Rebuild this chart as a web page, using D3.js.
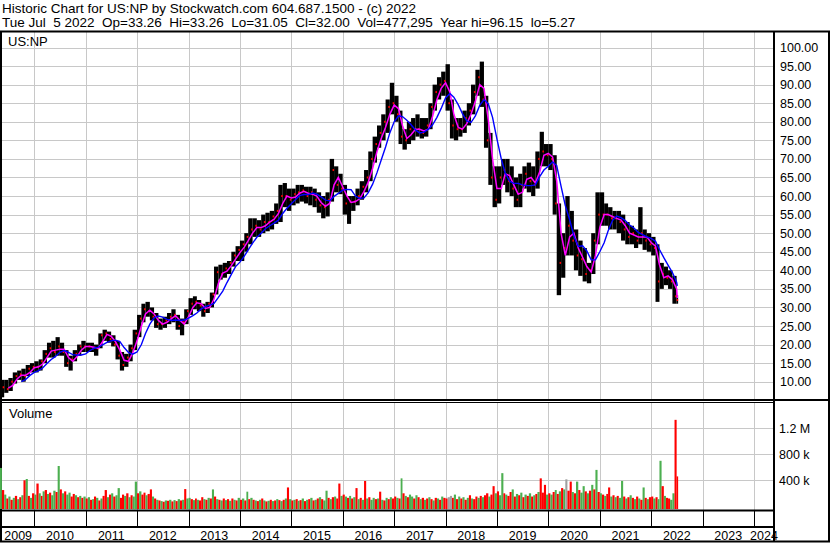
<!DOCTYPE html>
<html>
<head>
<meta charset="utf-8">
<script src="https://cdn.jsdelivr.net/npm/d3@7"></script>
<style>
  body { margin: 0; background: #fff; }
  svg text { font-family: Arial, "Liberation Sans", sans-serif; white-space: pre; }
</style>
</head>
<body>
<svg id="chart" width="830" height="543"></svg>
<script>
// Monthly price data, May 2009 .. Jul 2022.
const firstMonth = new Date(2009, 4, 1);
const lastDay = new Date(2022, 6, 6);

const monthHigh = [
  10.5, 10.5, 11, 12.5, 13, 13.5, 14.5, 15,                     // 2009 May-Dec
  15.5, 16, 18.5, 20.5, 21, 22, 20.5, 18.5, 17, 18.5, 20, 21,   // 2010
  20.5, 20.5, 20, 23, 24, 23.5, 22.5, 21, 18, 17.5, 20, 24,     // 2011
  28, 31, 31.5, 30, 28.5, 27, 27.5, 28.5, 29.5, 28, 27, 29.5,   // 2012
  32.5, 33, 32, 31, 31.5, 34, 41, 41.5, 42, 42.5, 45, 46.5,     // 2013
  48, 50, 54, 54, 53.5, 55, 55.5, 56, 58, 63, 63.5, 62,         // 2014
  62, 63, 63, 62.5, 62.5, 62, 61, 60, 61, 70, 68, 66,           // 2015
  63, 60, 60, 62, 64, 67, 72, 76, 79, 82, 86, 90.5,             // 2016
  87, 83, 78, 80, 81, 82, 81, 81, 85, 90, 92, 93.5,             // 2017
  95.5, 86, 81, 81, 83, 85, 90, 94, 96.2, 87, 77, 68,           // 2018
  68, 70, 70, 68, 65, 66, 68, 69, 68, 72, 77.3, 74,             // 2019
  74, 71, 58, 50, 60, 56, 51, 48, 46, 42, 50, 61,               // 2020
  61, 58, 57, 56, 56, 55, 53, 52, 51, 57, 51, 50,               // 2021
  49, 47, 42, 41, 40, 38.5, 33.3                                // 2022 Jan-Jul
];
const monthLow = [
  5.8, 7, 7.5, 9.5, 10.5, 10, 11.5, 12.5,
  12.5, 13, 15, 16.5, 16.5, 17, 17, 14, 13, 15.5, 17, 18,
  18, 18, 17, 19, 21, 20.5, 19.5, 16, 13, 14, 15.5, 18.5,
  22, 26, 27.5, 26.5, 24.5, 24, 24.5, 25.5, 26, 24, 22.5, 25.5,
  28, 29.5, 29, 27.5, 28.5, 30, 33.5, 37.5, 38, 39, 41, 42.5,
  42.5, 45, 47, 49, 49, 50, 50.5, 51, 52.5, 53, 57, 56,
  57.5, 58, 58.5, 58, 57.5, 57, 55.5, 54, 54.5, 58.5, 61, 60.5,
  55, 52.5, 56, 57.5, 59, 61, 64, 69, 73, 75, 77, 82,
  80, 74, 72.5, 74, 75, 76, 75.5, 76, 78, 83, 86, 87,
  83, 75.5, 75, 76, 77, 79, 82, 87, 84, 73, 63, 57,
  58, 63, 61, 60, 57, 57, 62, 61, 60, 62, 68, 68,
  67, 55, 33.3, 38, 44, 44, 40, 38.5, 37, 36.5, 39, 47,
  52, 52, 51, 51, 50, 48, 47, 47, 46, 47, 45.5, 45,
  44, 31.5, 35, 36, 35, 31, 31
];
const monthClose = [
  8.5, 8, 10, 11.5, 12, 11.5, 13.5, 14,
  14, 15.5, 17.5, 19, 18, 19.5, 18, 15, 16, 17.5, 19.5, 19.5,
  19.5, 19, 19, 22.5, 23, 21.5, 20, 17, 14.5, 16.5, 19, 23,
  27, 29.5, 29, 27.5, 25.5, 25.5, 26.5, 27.5, 28, 25, 26, 29,
  31, 31.5, 30.5, 29, 31, 33.5, 39.5, 39, 40.5, 42, 44, 45.5,
  47, 49, 51, 52, 51, 53, 53, 54.5, 56, 60, 60, 59,
  60.5, 61, 61.5, 60, 61, 59, 57.5, 57, 59, 67, 63, 62,
  58, 58.5, 58.5, 60, 62.5, 65, 70, 74, 77, 80, 84, 85,
  82, 76, 75, 78, 78, 78, 77, 79, 84, 88, 90, 91,
  85, 79, 78, 78, 81, 83, 88, 92, 86, 75, 65, 59,
  65, 67, 64, 62, 59, 63, 66, 64, 63, 70, 72, 71,
  70, 58, 42, 46, 52, 48, 44, 43, 39, 40, 48, 55,
  55, 55, 54, 54, 53, 51, 49, 50, 48, 50, 48, 47,
  46, 37, 39, 38, 37, 33, 32
];

// Half-monthly volume in thousands of shares, May 2009 .. early Jul 2022.
const volumeK = [
  590, 250, 180, 120, 150, 100, 130, 160, 110, 140, 170, 400, 420, 160, 130, 200,
  180, 350, 200, 160, 230, 250, 190, 210, 170, 240, 220, 620, 260, 200, 230, 180, 210, 150, 190, 170, 140, 160, 130, 150,
  120, 140, 100, 110, 150, 130, 90, 120, 160, 250, 140, 180, 200, 150, 170, 280, 130, 180, 160, 200, 140, 170, 150, 380,
  200, 230, 180, 210, 170, 190, 260, 150, 120, 100, 90, 80, 70, 90, 85, 100, 75, 95, 80, 110, 90, 100, 265, 120,
  130, 110, 95, 120, 100, 90, 140, 110, 100, 130, 120, 260, 150, 110, 100, 90, 120, 95, 110, 85, 120, 100, 90, 130,
  100, 120, 90, 225, 110, 130, 100, 90, 80, 100, 120, 90, 75, 85, 100, 80, 90, 110, 95, 80, 100, 120, 290, 110,
  90, 100, 110, 85, 95, 120, 80, 100, 110, 130, 90, 100, 120, 140, 110, 90, 240, 130, 110, 140, 150, 120, 350, 160,
  180, 150, 130, 160, 120, 140, 280, 110, 130, 100, 390, 120, 140, 100, 130, 110, 120, 225, 100, 90, 130, 110, 140, 120,
  150, 130, 120, 430, 200, 160, 140, 180, 150, 120, 170, 140, 110, 130, 100, 120, 140, 110, 90, 130, 120, 100, 150, 130,
  120, 140, 160, 130, 180, 110, 150, 120, 140, 100, 130, 170, 120, 110, 150, 130, 160, 140, 170, 200, 150, 180, 310, 200,
  230, 170, 510, 200, 180, 160, 220, 260, 150, 190, 170, 210, 140, 180, 160, 200, 150, 170, 190, 220, 430, 210, 330, 180,
  200, 180, 220, 250, 190, 230, 280, 260, 415, 240, 380, 220, 200, 380, 250, 210, 310, 230, 200, 240, 330, 260, 560, 220,
  200, 180, 160, 190, 290, 150, 170, 140, 160, 130, 390, 150, 120, 140, 170, 130, 110, 150, 120, 100, 290, 130, 110, 140,
  150, 120, 140, 110, 700, 310, 160, 130, 120, 100, 200, 1330, 460
];
// g = up, r = down, n = unchanged
const volumeSide = [
  "grgrgrgrgrgrgrgr",
  "grgrgrgrggrgrgrggrrgrgrg",
  "rgrgrgrgrrgrgrggrrgrgrgg",
  "rgrrgrrgrgrgrgrgrgrgrgrg",
  "grgrgrrgrgrgrgrgrgrgrgrg",
  "rgrgrgrgrgrgrgrgrgrgrgrg",
  "rgrgrgrgrgrgrgrggrgrgrrg",
  "rgrgrgrgrgrgrggrgrgrgrgr",
  "rgrgrgrggrgrgrgrgrgrgrgr",
  "rnnrgrgrgrgrgrrgrgrrgrrg",
  "rggrgrrgrgrgrgrgrgrgrrrg",
  "rgrgrgrgnrrgrgrggrgrgrgr",
  "grgrrgrgrggrgrgrgrgrgrgr",
  "rgrggrgrrggrr"
].join("");

const priceTicks = d3.range(10, 101, 5);
const volumeTicks = [400000, 800000, 1200000];
const volumeTickLabels = ["400 k", "800 k", "1.2 M"];
const yearLabels = d3.range(2009, 2025);

const headerLine1 = "Historic Chart for US:NP by Stockwatch.com 604.687.1500 - (c) 2022";
const headerLine2 = "Tue Jul  5 2022  Op=33.26  Hi=33.26  Lo=31.05  Cl=32.00  Vol=477,295  Year hi=96.15  lo=5.27";

// Layout
const plotLeft = 2, plotRight = 774, outerRight = 829;
const priceTop = 32, priceBottom = 400;
const volTop = 402, volBottom = 509;
const gridColor = "#c8c8c8";
const sideColor = { g: "#4caf50", r: "#ff0000", n: "#a0a0a0" };

const svg = d3.select("#chart");
svg.append("rect").attr("width", 830).attr("height", 543).attr("fill", "#fff");

const x = d3.scaleTime()
    .domain([new Date(2010, 0, 1), new Date(2024, 0, 1)])
    .range([34.3, 753.9]);
const y = d3.scaleLinear().domain([10, 100]).range([381.7, 47.5]);
const yVol = d3.scaleLinear().domain([0, 1200000]).range([506.3, 428.3]);

const months = monthClose.map((c, i) => d3.timeMonth.offset(firstMonth, i));
// end of a month, but never past the last trading day shown
const monthEnd = d => {
    const e = d3.timeMonth.offset(d, 1);
    return e > lastDay ? lastDay : e;
};
const barWidth = (a, b) => Math.max(x(b) - x(a), 1.5);

function sma(values, n) {
    return values.map((v, i) => i < n - 1 ? null : d3.mean(values.slice(i - n + 1, i + 1)));
}

// Grid lines
const yearStarts = d3.range(2010, 2025).map(yr => new Date(yr, 0, 1));
const grid = svg.append("g").attr("stroke", gridColor).attr("stroke-width", 1);
grid.selectAll(".hp").data(priceTicks).join("line")
    .attr("x1", plotLeft).attr("x2", plotRight)
    .attr("y1", d => Math.round(y(d)) + 0.5).attr("y2", d => Math.round(y(d)) + 0.5);
grid.selectAll(".hv").data(volumeTicks).join("line")
    .attr("x1", plotLeft).attr("x2", plotRight)
    .attr("y1", d => Math.round(yVol(d)) + 0.5).attr("y2", d => Math.round(yVol(d)) + 0.5);
yearStarts.forEach(d => {
    const xx = Math.round(x(d)) + 0.5;
    grid.append("line").attr("x1", xx).attr("x2", xx).attr("y1", priceTop).attr("y2", priceBottom);
    grid.append("line").attr("x1", xx).attr("x2", xx).attr("y1", volTop).attr("y2", 510);
});

// Frame
const frame = svg.append("g").attr("stroke", "#000");
const hline = (x1, x2, yy, w) => frame.append("line").attr("x1", x1).attr("x2", x2).attr("y1", yy).attr("y2", yy).attr("stroke-width", w);
const vline = (xx, y1, y2, w) => frame.append("line").attr("x1", xx).attr("x2", xx).attr("y1", y1).attr("y2", y2).attr("stroke-width", w);
hline(0, 830, 31.5, 2);
hline(0, 830, 400, 2);
hline(0, plotRight, 402.5, 1);
hline(0, plotRight, 510.5, 2);
hline(0, plotRight, 527, 2);
hline(0, 830, 541.5, 2);
vline(1, 31, 542, 2);
vline(plotRight, 31, 542, 2);
vline(outerRight, 31, 542, 2);
yearStarts.forEach(d => {
    const xx = Math.round(x(d)) + 0.5;
    vline(xx, 511, 527, 1);
});

// Price bars (monthly range) with red close ticks
const plot = svg.append("g");
plot.selectAll(".bar").data(months).join("rect")
    .attr("x", d => x(d))
    .attr("width", d => barWidth(d, monthEnd(d)))
    .attr("y", (d, i) => y(monthHigh[i]))
    .attr("height", (d, i) => y(monthLow[i]) - y(monthHigh[i]))
    .attr("fill", "#000");
plot.selectAll(".tick").data(months).join("rect")
    .attr("x", d => x(d) + barWidth(d, monthEnd(d)) - 1.5)
    .attr("width", 1.5)
    .attr("y", (d, i) => y(monthClose[i]) - 1)
    .attr("height", 2)
    .attr("fill", "#ff0000");

// Moving averages, plotted at the end of each month
const maShort = sma(monthClose, 2);
const maLong = sma(monthClose, 5);
const maLine = d3.line()
    .defined(d => d != null)
    .x((d, i) => x(monthEnd(months[i])))
    .y(d => y(d));
plot.append("path").datum(maShort)
    .attr("fill", "none").attr("stroke", "#ff00ff").attr("stroke-width", 1.5)
    .attr("d", maLine);
plot.append("path").datum(maLong)
    .attr("fill", "none").attr("stroke", "#0000ff").attr("stroke-width", 1.4)
    .attr("d", maLine);

// Volume bars
const halfMonths = volumeK.map((v, h) => h);
const halfStart = h => {
    const m = months[Math.floor(h / 2)];
    return h % 2 ? d3.timeDay.offset(m, 15) : m;
};
const halfEnd = h => {
    const m = months[Math.floor(h / 2)];
    const e = h % 2 ? d3.timeMonth.offset(m, 1) : d3.timeDay.offset(m, 15);
    return e > lastDay ? lastDay : e;
};
svg.append("g").selectAll("rect").data(halfMonths).join("rect")
    .attr("x", h => x(halfStart(h)))
    .attr("width", h => barWidth(halfStart(h), halfEnd(h)))
    .attr("y", h => yVol(volumeK[h] * 1000))
    .attr("height", h => volBottom - yVol(volumeK[h] * 1000))
    .attr("fill", h => sideColor[volumeSide[h]]);

// Text
const text = (xx, yy, str, size, anchor) => svg.append("text")
    .attr("x", xx).attr("y", yy)
    .attr("font-size", size)
    .attr("text-anchor", anchor || "start")
    .attr("fill", "#000")
    .text(str);

text(2, 12.5, headerLine1, "13.5px");
text(2, 27, headerLine2, "13.5px");
text(8, 45.7, "US:NP", "13px");
text(9, 418.3, "Volume", "13px");

svg.append("g").selectAll("text").data(priceTicks).join("text")
    .attr("x", 780).attr("y", d => y(d) + 4.5)
    .attr("font-size", "12.5px").attr("fill", "#000")
    .text(d => d3.format(".2f")(d));
svg.append("g").selectAll("text").data(volumeTicks).join("text")
    .attr("x", 779).attr("y", d => yVol(d) + 4.5)
    .attr("font-size", "12.5px").attr("fill", "#000")
    .text((d, i) => volumeTickLabels[i]);

svg.append("g").selectAll("text").data(yearLabels).join("text")
    .attr("x", yr => {
        const a = Math.max(x(new Date(yr, 0, 1)), plotLeft);
        const b = Math.min(x(new Date(yr + 1, 0, 1)), plotRight);
        return (a + b) / 2;
    })
    .attr("y", 539.5)
    .attr("text-anchor", "middle")
    .attr("font-size", "12.5px").attr("fill", "#000")
    .text(yr => yr);
</script>
</body>
</html>
